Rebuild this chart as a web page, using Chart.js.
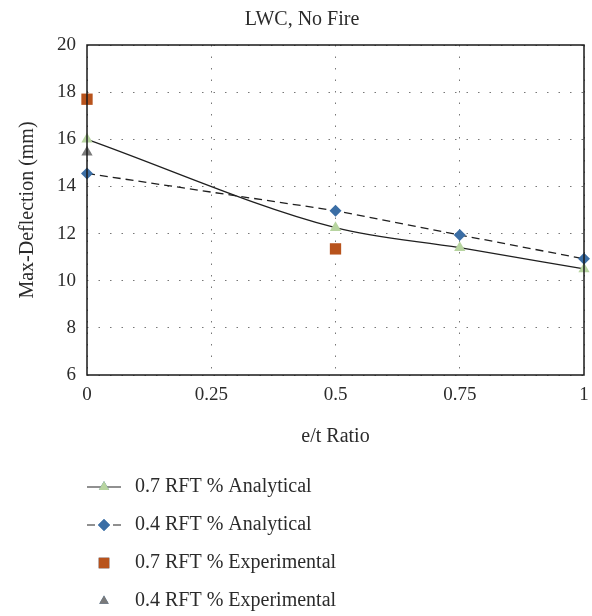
<!DOCTYPE html>
<html>
<head>
<meta charset="utf-8">
<script src="https://cdn.jsdelivr.net/npm/chart.js"></script>
<style>
  html, body { margin: 0; padding: 0; background: #fff; }
  .chart-box { width: 592px; height: 616px; }
</style>
</head>
<body>
<div class="chart-box"><canvas id="deflectionChart"></canvas></div>
<script>
  // values
  const ratioAnalytical = [0, 0.5, 0.75, 1];
  const rft07Analytical = [16.0, 12.25, 11.4, 10.5];
  const rft04Analytical = [14.55, 12.97, 11.94, 10.93];
  const ratioExp07 = [0, 0.5];
  const rft07Experimental = [17.7, 11.35];
  const ratioExp04 = [0];
  const rft04Experimental = [15.45];
  const xTicks = [0, 0.25, 0.5, 0.75, 1];

  const pts = (xs, ys) => xs.map((x, i) => ({ x, y: ys[i] }));
  const serif = "'Liberation Serif', 'DejaVu Serif', serif";
  const textColor = "#2b2b2b";
  const fontSize = 19;

  // legend drawn by hand so that it sits in one column under the chart
  const columnLegend = {
    id: "columnLegend",
    afterDraw(chart) {
      const ctx = chart.ctx;
      const rows = [487, 525, 563, 601];
      chart.data.datasets.forEach((ds, i) => {
        const y = rows[i];
        ctx.save();
        if (ds.showLine !== false) {
          ctx.strokeStyle = "#222";
          ctx.lineWidth = 1.2;
          ctx.setLineDash(ds.borderDash || []);
          ctx.beginPath();
          ctx.moveTo(87, y);
          ctx.lineTo(121, y);
          ctx.stroke();
          ctx.setLineDash([]);
        }
        Chart.helpers.drawPoint(ctx, {
          pointStyle: ds.pointStyle,
          radius: ds.legendRadius,
          borderWidth: 0
        }, 104, y);
        ctx.fillStyle = ds.pointBackgroundColor;
        ctx.fill();
        ctx.fillStyle = textColor;
        ctx.font = "20px " + serif;
        ctx.textBaseline = "middle";
        ctx.fillText(ds.label, 135, y);
        ctx.restore();
      });
    }
  };

  const frame = {
    id: "frame",
    afterDatasetsDraw(chart) {
      const { ctx, chartArea: a } = chart;
      ctx.save();
      ctx.strokeStyle = "#1a1a1a";
      ctx.lineWidth = 1.5;
      ctx.strokeRect(a.left, a.top, a.right - a.left, a.bottom - a.top);
      ctx.restore();
    }
  };

  new Chart(document.getElementById("deflectionChart"), {
    type: "line",
    data: {
      datasets: [{
        label: "0.7 RFT % Analytical",
        data: pts(ratioAnalytical, rft07Analytical),
        borderColor: "#1f1f1f",
        borderWidth: 1.3,
        cubicInterpolationMode: "monotone",
        pointStyle: "triangle",
        pointRadius: 6.5,
        legendRadius: 6,
        pointBackgroundColor: "#b7d4a0",
        pointBorderWidth: 0,
        clip: false,
        order: 2
      }, {
        label: "0.4 RFT % Analytical",
        data: pts(ratioAnalytical, rft04Analytical),
        borderColor: "#1f1f1f",
        borderWidth: 1.3,
        borderDash: [8, 5],
        pointStyle: "rectRot",
        pointRadius: 6,
        legendRadius: 6,
        pointBackgroundColor: "#3b6ea5",
        pointBorderWidth: 0,
        clip: false,
        order: 1
      }, {
        label: "0.7 RFT % Experimental",
        data: pts(ratioExp07, rft07Experimental),
        showLine: false,
        pointStyle: "rect",
        pointRadius: 8,
        legendRadius: 7.5,
        pointBackgroundColor: "#b8531c",
        pointBorderWidth: 0,
        clip: false,
        order: 3
      }, {
        label: "0.4 RFT % Experimental",
        data: pts(ratioExp04, rft04Experimental),
        showLine: false,
        pointStyle: "triangle",
        pointRadius: 6.5,
        legendRadius: 5.5,
        pointBackgroundColor: "#7a7a7a",
        pointBorderWidth: 0,
        clip: false,
        order: 4
      }]
    },
    options: {
      responsive: true,
      maintainAspectRatio: false,
      animation: false,
      layout: { padding: { left: 13, right: 1, top: 0, bottom: 166 } },
      plugins: {
        legend: { display: false },
        tooltip: { enabled: false },
        title: {
          display: true,
          text: "LWC, No Fire",
          color: textColor,
          font: { family: serif, size: 20, weight: "normal" },
          padding: { top: 8, bottom: 13 }
        }
      },
      scales: {
        x: {
          type: "linear",
          min: 0,
          max: 1,
          afterBuildTicks(scale) { scale.ticks = xTicks.map(v => ({ value: v })); },
          afterFit(scale) {
            scale.height = 75;
            scale.paddingRight = 6;
          },
          ticks: {
            color: textColor,
            font: { family: serif, size: fontSize },
            padding: 9,
            maxRotation: 0,
            callback: v => String(v)
          },
          grid: { color: "#777", lineWidth: 1, drawTicks: false },
          border: { display: false, dash: [1.5, 10] },
          title: {
            display: true,
            text: "e/t Ratio",
            color: textColor,
            font: { family: serif, size: 20 },
            padding: { top: 4, bottom: 1 }
          }
        },
        y: {
          min: 6,
          max: 20,
          afterFit(scale) { scale.width = 74; },
          ticks: {
            stepSize: 2,
            color: textColor,
            font: { family: serif, size: fontSize },
            padding: 11
          },
          grid: { color: "#777", lineWidth: 1, drawTicks: false },
          border: { display: false, dash: [1.5, 10] },
          title: {
            display: true,
            text: "Max-Deflection (mm)",
            color: textColor,
            font: { family: serif, size: 20 },
            padding: { top: 3, bottom: 4 }
          }
        }
      }
    },
    plugins: [frame, columnLegend]
  });
</script>
</body>
</html>
